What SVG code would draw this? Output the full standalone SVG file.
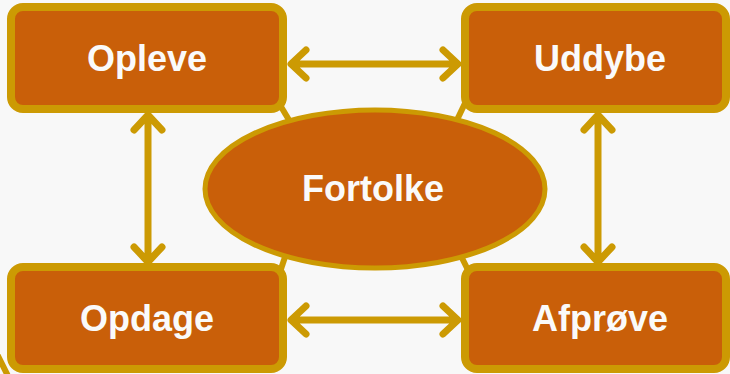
<svg xmlns="http://www.w3.org/2000/svg" width="730" height="374" viewBox="0 0 730 374">
<defs>
<style>
.box{fill:#C95F09;stroke:#CC9A03;stroke-width:8}
.ell{fill:#C95F09;stroke:#CC9A03;stroke-width:5}
.lbl{font-family:"Liberation Sans",Arial,sans-serif;font-weight:bold;font-size:36px;fill:#FAFAFA;text-anchor:middle}
.tie{stroke:#CC9A03;stroke-width:6;fill:none}
.arr{stroke:#CC9A03;stroke-width:7;fill:none;stroke-linecap:round;stroke-linejoin:round}
</style>
</defs>
<rect x="0" y="0" width="730" height="374" fill="#F8F8F8"/>
<g id="ties">
<line class="tie" x1="274" y1="95" x2="292" y2="125"/>
<line class="tie" x1="468" y1="97" x2="456" y2="122"/>
<line class="tie" x1="288" y1="248" x2="280" y2="272"/>
<line class="tie" x1="458" y1="250" x2="471" y2="276"/>
<line class="tie" x1="-4" y1="352" x2="10" y2="380"/>
</g>
<g id="connectors">
<path class="arr" d="M292 64H457M306 50L291 64L306 78M443 50L458 64L443 78"/>
<path class="arr" d="M292 320H457M306 306L291 320L306 334M443 306L458 320L443 334"/>
<path class="arr" d="M148 116V261M134 130L148 115L162 130M134 247L148 262L162 247"/>
<path class="arr" d="M598 116V261M584 130L598 115L612 130M584 247L598 262L612 247"/>
</g>
<g id="opleve">
<rect class="box" x="11" y="7" width="272" height="102" rx="12"/>
<text class="lbl" x="147" y="71">Opleve</text>
</g>
<g id="uddybe">
<rect class="box" x="465" y="7" width="261" height="102" rx="12"/>
<text class="lbl" x="600" y="71">Uddybe</text>
</g>
<g id="opdage">
<rect class="box" x="11" y="267" width="272" height="102" rx="12"/>
<text class="lbl" x="147" y="331">Opdage</text>
</g>
<g id="afprove">
<rect class="box" x="465" y="267" width="261" height="102" rx="12"/>
<text class="lbl" x="600" y="331">Afprøve</text>
</g>
<g id="fortolke">
<ellipse class="ell" cx="375" cy="189" rx="170" ry="79"/>
<text class="lbl" x="373" y="201">Fortolke</text>
</g>
</svg>
